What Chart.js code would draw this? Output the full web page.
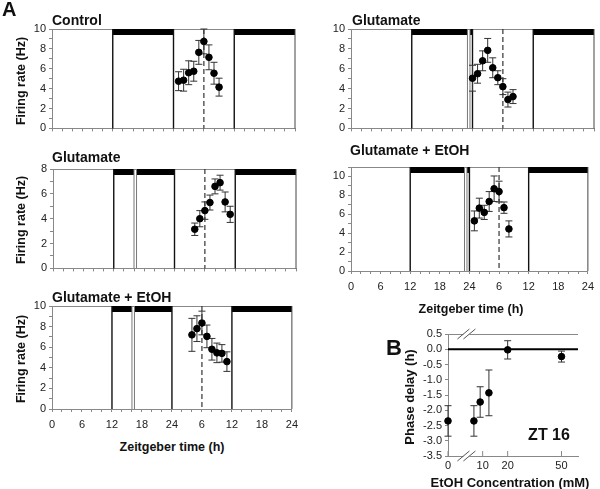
<!DOCTYPE html>
<html>
<head>
<meta charset="utf-8">
<script src="https://cdn.jsdelivr.net/npm/chart.js@4.4.1/dist/chart.umd.min.js"></script>
<style>
  body { margin: 0; background: #fff; }
  #fig { position: relative; width: 600px; height: 489px; overflow: hidden; background: #fff;
         font-family: "Liberation Sans", Arial, sans-serif; }
  #fig canvas { position: absolute; }
  .t { position: absolute; font-weight: bold; color: #111; line-height: 1; white-space: nowrap; }
</style>
</head>
<body>
<div id="fig"></div>
<script>
// ---- firing rate data (ZT hours on a 48 h axis, rate in Hz, SEM) ----
const ctlTime = [25, 26, 27, 28, 29, 30, 31, 32, 33];
const ctlRate = [4.75, 4.85, 5.6, 5.75, 7.65, 8.75, 7.15, 5.55, 4.15];
const ctlErr  = [0.95, 1.1, 1.2, 1.0, 1.2, 1.25, 1.25, 1.1, 0.9];

const gluLateTime = [24, 25, 26, 27, 28, 29, 30, 31, 32];
const gluLateRate = [5.05, 5.5, 6.8, 7.85, 6.1, 5.1, 4.2, 2.9, 3.2];
const gluLateErr  = [1.3, 0.95, 1.0, 1.2, 1.0, 0.7, 0.8, 0.75, 0.7];

const gluEarlyTime = [28, 29, 30, 31, 32, 33, 34, 35];
const gluEarlyRate = [3.15, 4.0, 4.65, 5.3, 6.6, 6.9, 5.35, 4.35];
const gluEarlyErr  = [0.5, 0.65, 0.7, 0.6, 0.6, 0.6, 0.8, 0.65];

const mixLateTime = [25, 26, 27, 28, 29, 30, 31, 32];
const mixLateRate = [5.3, 6.65, 6.2, 7.35, 8.7, 8.4, 6.7, 4.45];
const mixLateErr  = [1.05, 1.05, 0.75, 1.05, 1.35, 1.1, 0.6, 0.85];

const mixEarlyTime = [28, 29, 30, 31, 32, 33, 34, 35];
const mixEarlyRate = [7.2, 7.8, 8.35, 7.05, 5.8, 5.45, 5.4, 4.6];
const mixEarlyErr  = [1.6, 1.25, 1.15, 1.1, 1.05, 0.95, 0.85, 0.95];

// light schedule (dark periods), glutamate pulse gaps, ZT6 marker
const darkControl = [[12, 24], [36, 48]];
const darkZT23 = [[12, 23], [23.5, 24], [36, 48]];
const darkZT16 = [[12, 16], [16.5, 24], [36, 48]];
const pulseZT23 = [23, 23.5];
const pulseZT16 = [16, 16.5];
const lightEdges = [12, 24, 36];
const markerZT = 30;

// ---- phase delay vs ethanol ----
const concMM = [0, 6.5, 9, 12.5, 20, 50];
const phaseDelay = [-2.35, -2.35, -1.73, -1.43, -0.02, -0.24];
const phaseErr = [0.5, 0.5, 0.5, 0.75, 0.3, 0.18];
const concTicks = [0, 10, 20, 50];

const FONT = '"Liberation Sans", Arial, sans-serif';
const fig = document.getElementById('fig');

function addText(str, x, y, size, mode) {
  const d = document.createElement('div');
  d.className = 't';
  d.textContent = str;
  d.style.left = x + 'px';
  d.style.top = y + 'px';
  d.style.fontSize = size + 'px';
  if (mode === 'left') d.style.transform = 'translate(0,-50%)';
  else if (mode === 'vert') d.style.transform = 'translate(-50%,-50%) rotate(-90deg)';
  else d.style.transform = 'translate(-50%,-50%)';
  fig.appendChild(d);
}

function addCanvas(L, T, R, B, yW, xH, padR, padT) {
  const cv = document.createElement('canvas');
  cv.width = yW + (R - L) + padR;
  cv.height = padT + (B - T) + xH;
  cv.style.left = (L - yW) + 'px';
  cv.style.top = (T - padT) + 'px';
  fig.appendChild(cv);
  return cv;
}

// piecewise linear scale for the broken concentration axis
class BrokenScale extends Chart.LinearScale {
  static id = 'broken';
  buildTicks() {
    this.start = this.min;
    this.end = this.max;
    return this.options.tickValues.map(v => ({ value: v }));
  }
  getPixelForValue(value) {
    const kv = this.options.knotValues, kf = this.options.knotFractions;
    let i = 0;
    while (i < kv.length - 2 && value > kv[i + 1]) i++;
    const f = kf[i] + (value - kv[i]) / (kv[i + 1] - kv[i]) * (kf[i + 1] - kf[i]);
    return this.left + f * this.width;
  }
  getValueForPixel(pixel) {
    const kv = this.options.knotValues, kf = this.options.knotFractions;
    const f = (pixel - this.left) / this.width;
    let i = 0;
    while (i < kf.length - 2 && f > kf[i + 1]) i++;
    return kv[i] + (f - kf[i]) / (kf[i + 1] - kf[i]) * (kv[i + 1] - kv[i]);
  }
}
Chart.register(BrokenScale);

function vline(ctx, x, top, bottom, color, width, dash) {
  ctx.save();
  ctx.strokeStyle = color;
  ctx.lineWidth = width;
  if (dash) ctx.setLineDash(dash);
  ctx.beginPath();
  ctx.moveTo(x, top);
  ctx.lineTo(x, bottom);
  ctx.stroke();
  ctx.restore();
}

const lightPlugin = {
  id: 'light',
  beforeDatasetsDraw(chart, args, o) {
    const { ctx, chartArea: a, scales: { x } } = chart;
    const px = v => x.getPixelForValue(v);
    ctx.save();
    ctx.strokeStyle = '#888';
    ctx.lineWidth = 1;
    ctx.beginPath();
    ctx.moveTo(a.left, a.top + 0.5);
    ctx.lineTo(a.right, a.top + 0.5);
    ctx.stroke();
    ctx.fillStyle = '#000';
    o.dark.forEach(([s, e]) => ctx.fillRect(px(s), a.top, px(e) - px(s), 6));
    lightEdges.forEach(v => vline(ctx, px(v), a.top, a.bottom, '#111', 1.4));
    vline(ctx, a.right, a.top, a.bottom, '#444', 1);
    o.pulse.forEach(v => vline(ctx, px(v), a.top, a.bottom, '#777', 1));
    vline(ctx, px(markerZT), a.top, a.bottom, '#333', 1.2, [5, 3]);
    ctx.restore();
  }
};

const errorBarPlugin = {
  id: 'errorBars',
  beforeDatasetsDraw(chart) {
    const { ctx, scales: { y } } = chart;
    ctx.save();
    ctx.strokeStyle = '#333';
    ctx.lineWidth = 1;
    chart.data.datasets.forEach((ds, di) => {
      chart.getDatasetMeta(di).data.forEach((pt, i) => {
        const v = ds.data[i].y, e = ds.errors[i];
        const top = y.getPixelForValue(v + e), bot = y.getPixelForValue(v - e);
        ctx.beginPath();
        ctx.moveTo(pt.x, top); ctx.lineTo(pt.x, bot);
        ctx.moveTo(pt.x - 3.5, top); ctx.lineTo(pt.x + 3.5, top);
        ctx.moveTo(pt.x - 3.5, bot); ctx.lineTo(pt.x + 3.5, bot);
        ctx.stroke();
      });
    });
    ctx.restore();
  }
};

function breakMark(ctx, cx, cy) {
  ctx.save();
  ctx.fillStyle = '#fff';
  ctx.fillRect(cx - 3, cy - 2, 6, 4);
  ctx.strokeStyle = '#555';
  ctx.lineWidth = 1;
  [-3, 3].forEach(d => {
    ctx.beginPath();
    ctx.moveTo(cx + d - 6, cy + 5);
    ctx.lineTo(cx + d + 6, cy - 5);
    ctx.stroke();
  });
  ctx.restore();
}

const phasePlugin = {
  id: 'phase',
  beforeDatasetsDraw(chart, args, o) {
    const { ctx, chartArea: a, scales: { x, y } } = chart;
    ctx.save();
    ctx.strokeStyle = '#888';
    ctx.lineWidth = 1;
    ctx.beginPath();
    ctx.moveTo(a.left, a.top + 0.5);
    ctx.lineTo(a.right, a.top + 0.5);
    ctx.stroke();
    const y0 = y.getPixelForValue(0);
    ctx.strokeStyle = '#000';
    ctx.lineWidth = 2;
    ctx.beginPath();
    ctx.moveTo(a.left, y0);
    ctx.lineTo(a.right, y0);
    ctx.stroke();
    x.ticks.forEach(t => vline(ctx, x.getPixelForValue(t.value), a.bottom, a.bottom - 5, '#888', 1));
    const bx = x.getPixelForValue(o.breakAt);
    breakMark(ctx, bx, a.top);
    breakMark(ctx, bx, a.bottom);
    ctx.restore();
  }
};

function ztLabel(v) {
  if (v % 6 !== 0) return '';
  if (v === 0) return '0';
  const h = v % 24;
  return String(h === 0 ? 24 : h);
}

const tickFont = { family: FONT, size: 11 };

function firingPanel(p) {
  const cv = addCanvas(p.L, p.T, p.R, p.B, p.yW, p.xH, p.padR, 12);
  new Chart(cv, {
    type: 'scatter',
    data: {
      datasets: [{
        data: p.time.map((t, i) => ({ x: t, y: p.rate[i] })),
        errors: p.err,
        backgroundColor: '#000',
        borderColor: '#000',
        pointRadius: 3.3,
        pointHoverRadius: 3.3,
        clip: false
      }]
    },
    options: {
      responsive: false,
      animation: false,
      events: [],
      layout: { padding: { top: 12, right: p.padR, left: 0, bottom: 0 } },
      plugins: {
        legend: { display: false },
        tooltip: { enabled: false },
        light: { dark: p.dark, pulse: p.pulse }
      },
      scales: {
        x: {
          type: 'linear', min: 0, max: 48,
          afterFit: s => { s.height = p.xH; },
          border: { color: '#888' },
          grid: { drawOnChartArea: false, color: '#888', tickLength: 3 },
          ticks: {
            stepSize: 2, autoSkip: false, maxRotation: 0, minRotation: 0,
            padding: 6, color: '#222', font: tickFont,
            callback: v => (p.xLabels ? ztLabel(v) : '')
          }
        },
        y: {
          min: 0, max: p.yMax,
          afterFit: s => { s.width = p.yW; },
          border: { color: '#888' },
          grid: { drawOnChartArea: false, color: '#888', tickLength: 3 },
          ticks: {
            stepSize: 1, autoSkip: false, padding: 3, color: '#222', font: tickFont,
            callback: v => (v % 2 === 0 ? String(v) : '')
          }
        }
      }
    },
    plugins: [lightPlugin, errorBarPlugin]
  });
}

firingPanel({ L: 52, T: 29, R: 295, B: 132, yW: 52, xH: 6, padR: 8, yMax: 10, xLabels: false,
  time: ctlTime, rate: ctlRate, err: ctlErr, dark: darkControl, pulse: [] });
firingPanel({ L: 351, T: 29, R: 594, B: 132, yW: 40, xH: 6, padR: 6, yMax: 10, xLabels: false,
  time: gluLateTime, rate: gluLateRate, err: gluLateErr, dark: darkZT23, pulse: pulseZT23 });
firingPanel({ L: 53, T: 169, R: 296, B: 272, yW: 52, xH: 6, padR: 8, yMax: 8, xLabels: false,
  time: gluEarlyTime, rate: gluEarlyRate, err: gluEarlyErr, dark: darkZT16, pulse: pulseZT16 });
firingPanel({ L: 351, T: 167, R: 594, B: 271, yW: 40, xH: 26, padR: 6, yMax: 11, xLabels: true,
  time: mixLateTime, rate: mixLateRate, err: mixLateErr, dark: darkZT23, pulse: pulseZT23 });
firingPanel({ L: 52, T: 306, R: 296, B: 409, yW: 52, xH: 26, padR: 8, yMax: 10, xLabels: true,
  time: mixEarlyTime, rate: mixEarlyRate, err: mixEarlyErr, dark: darkZT16, pulse: pulseZT16 });

// ---- panel B ----
const cvB = addCanvas(448, 334, 578, 456, 48, 22, 12, 10);
new Chart(cvB, {
  type: 'scatter',
  data: {
    datasets: [{
      data: concMM.map((c, i) => ({ x: c, y: phaseDelay[i] })),
      errors: phaseErr,
      backgroundColor: '#000',
      borderColor: '#000',
      pointRadius: 3.3,
      pointHoverRadius: 3.3,
      clip: false
    }]
  },
  options: {
    responsive: false,
    animation: false,
    events: [],
    layout: { padding: { top: 10, right: 12, left: 0, bottom: 0 } },
    plugins: {
      legend: { display: false },
      tooltip: { enabled: false },
      phase: { breakAt: 3.5 }
    },
    scales: {
      x: {
        type: 'broken', min: 0, max: 59,
        tickValues: concTicks,
        knotValues: [0, 3, 20, 50, 59],
        knotFractions: [0, 0.132, 0.459, 0.873, 1],
        afterFit: s => { s.height = 22; },
        border: { color: '#888' },
        grid: { display: false, drawTicks: false, tickLength: 0 },
        ticks: { autoSkip: false, maxRotation: 0, padding: 3, color: '#222', font: tickFont,
                 callback: v => String(v) }
      },
      y: {
        min: -3.5, max: 0.5,
        afterFit: s => { s.width = 48; },
        border: { color: '#888' },
        grid: { drawOnChartArea: false, color: '#888', tickLength: 3 },
        ticks: { stepSize: 0.5, autoSkip: false, padding: 3, color: '#222', font: tickFont,
                 callback: v => Number(v).toFixed(1) }
      }
    }
  },
  plugins: [phasePlugin, errorBarPlugin]
});

// ---- text ----
addText('A', 2, 9, 20, 'left');
addText('Control', 52, 19.5, 14, 'left');
addText('Glutamate', 352, 19.5, 14, 'left');
addText('Glutamate', 52, 157, 14, 'left');
addText('Glutamate + EtOH', 350, 150, 14, 'left');
addText('Glutamate + EtOH', 52, 296.5, 14, 'left');
addText('Firing rate (Hz)', 21, 81, 12.5, 'vert');
addText('Firing rate (Hz)', 21, 220, 12.5, 'vert');
addText('Firing rate (Hz)', 21, 359, 12.5, 'vert');
addText('Zeitgeber time (h)', 471, 309, 12.5);
addText('Zeitgeber time (h)', 172, 447, 12.5);
addText('B', 386, 348, 22, 'left');
addText('Phase delay (h)', 409, 397, 13, 'vert');
addText('EtOH Concentration (mM)', 510, 482, 13);
addText('ZT 16', 549, 435, 16);
</script>
</body>
</html>
